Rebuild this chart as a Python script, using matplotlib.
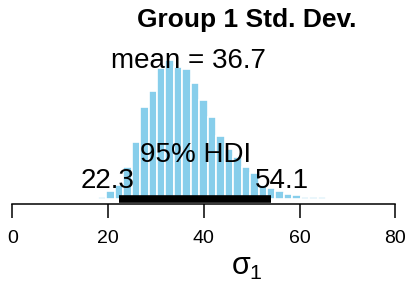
import matplotlib
matplotlib.use('Agg')
import matplotlib.pyplot as plt
import numpy as np

plt.rcParams['font.family'] = ['Liberation Sans', 'DejaVu Sans']
plt.rcParams['mathtext.fontset'] = 'custom'
plt.rcParams['mathtext.rm'] = 'Liberation Sans'
plt.rcParams['mathtext.it'] = 'Liberation Sans'
plt.rcParams['mathtext.sf'] = 'Liberation Sans'

# ---- data ----
title = "Group 1 Std. Dev."
bin_first_left = 17.86
bin_width = 1.767
density = [0.0008, 0.0030, 0.0056, 0.0126, 0.0226, 0.0367, 0.0431, 0.0523,
           0.0555, 0.0527, 0.0519, 0.0461, 0.0395, 0.0327, 0.0250, 0.0200,
           0.0166, 0.0128, 0.0102, 0.0054, 0.0042, 0.0032, 0.0020, 0.0016,
           0.0008, 0.0006, 0.0006]
mean_val = 36.7
hdi_low = 22.3
hdi_high = 54.1
xticks = [0, 20, 40, 60, 80]

edges = bin_first_left + bin_width * np.arange(len(density))

fig = plt.figure(figsize=(4.07, 2.85), dpi=100)
ax = fig.add_axes([0.0, 81 / 285, 1.0, (229.5 - 81) / 285])
ax.bar(edges, density, width=bin_width, align='edge', color='#87CEEB',
       edgecolor='white', linewidth=1.2, zorder=1)
ax.plot([hdi_low, hdi_high], [0, 0], color='black', lw=5.5,
        solid_capstyle='butt', zorder=2)

ax.set_xlim(-2.569, 82.44)
ax.set_ylim(-0.0022, 0.0573)
for s in ['top', 'left', 'right']:
    ax.spines[s].set_visible(False)
ax.spines['bottom'].set_bounds(0, 80)
ax.spines['bottom'].set_linewidth(1.1)
ax.set_yticks([])
ax.set_xticks(xticks)
ax.set_xticklabels([str(t) for t in xticks])
ax.tick_params(axis='x', length=10, width=1.1, labelsize=14, pad=8.5)
ax.patch.set_visible(False)

txt_size = 20
ax.text(mean_val, 0.0523, f"mean = {mean_val}", ha='center', va='baseline',
        fontsize=txt_size, zorder=5)
ax.text((hdi_low + hdi_high) / 2, 0.0146, "95% HDI", ha='center',
        va='baseline', fontsize=txt_size, zorder=5)
ax.text(hdi_low - 2.3, 0.0044, f"{hdi_low}", ha='center', va='baseline',
        fontsize=txt_size, zorder=5)
ax.text(hdi_high + 2.3, 0.0044, f"{hdi_high}", ha='center', va='baseline',
        fontsize=txt_size, zorder=5)

fig.text(0.607, 1 - 27 / 285, title, ha='center', va='baseline',
         fontsize=19, fontweight='bold')
fig.text(0.606, 10 / 285, r'$\sigma_1$', ha='center', va='baseline',
         fontsize=22)

fig.savefig('out.png', dpi=100)
